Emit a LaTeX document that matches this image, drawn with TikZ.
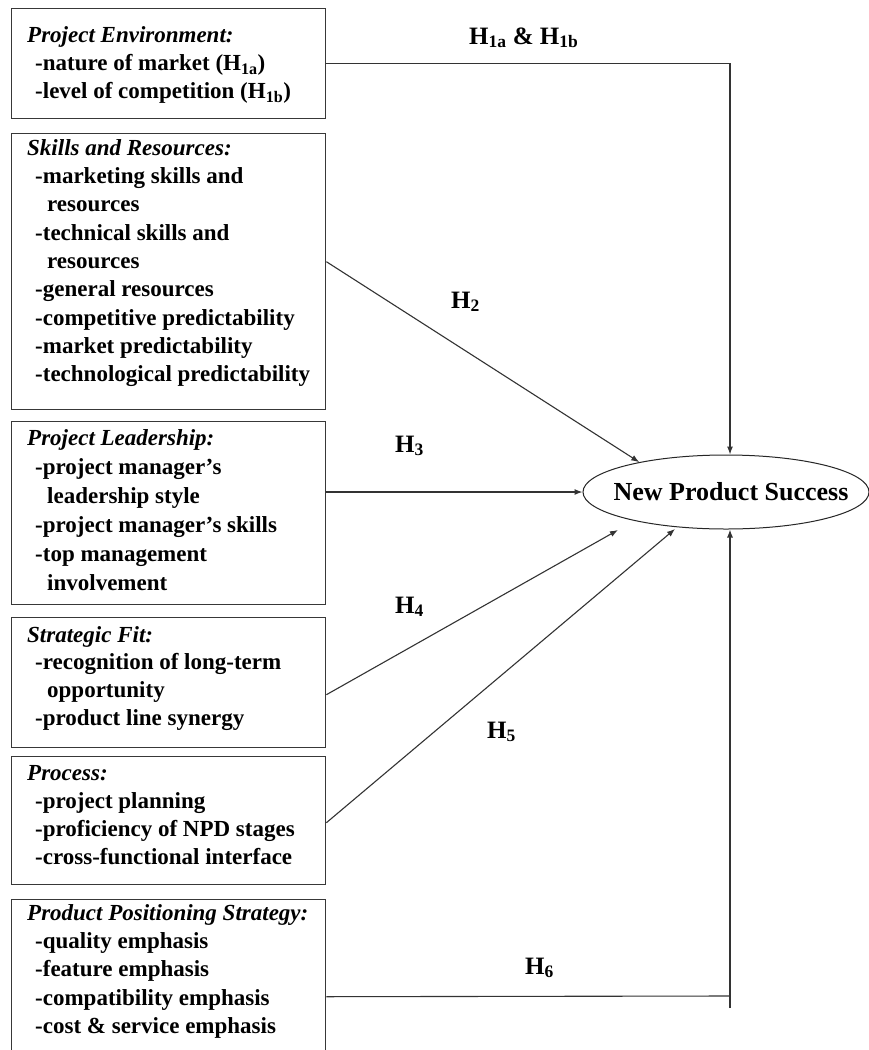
\documentclass[tikz,border=0pt]{standalone}
\usepackage{fontspec}
\setmainfont{Liberation Serif}
\usetikzlibrary{arrows.meta,shapes.geometric}

% indentation of list entries and of their continuation lines
\newcommand\lvla{\hspace*{8pt}}
\newcommand\lvlb{\hspace*{20pt}}
% invisible strut fixing the height of the first line of each list
\newcommand\firstln{\rule{0pt}{20pt}}

\begin{document}
\begin{tikzpicture}[x=1pt,y=-1pt,
  frame/.style={draw=black!78, line width=1.4pt, minimum width=314pt,
    anchor=north west, inner sep=0pt},
  list/.style={anchor=north west, align=left, inner sep=0pt,
    font=\fontsize{23}{28.3}\selectfont\bfseries},
  link/.style={draw=black!80, line width=1.1pt},
  arr/.style={link, -{Latex[length=8pt,width=6pt]}},
  hyp/.style={anchor=base west, inner sep=0pt,
    font=\fontsize{25}{28}\selectfont\bfseries},
  goal/.style={draw=black!85, line width=1pt, ellipse, inner sep=0pt,
    minimum width=286pt, minimum height=74pt,
    font=\fontsize{26}{30}\selectfont\bfseries},
]
\clip (0,0) rectangle (869,1050);
\fill[white] (0,0) rectangle (869,1050);

% factor boxes
\node[frame, minimum height=110pt] (pe) at (11,8) {};
\node[frame, minimum height=276pt] (sr) at (11,133) {};
\node[frame, minimum height=183pt] (pl) at (11,421) {};
\node[frame, minimum height=130pt] (sf) at (11,617) {};
\node[frame, minimum height=128pt] (pr) at (11,756) {};
\node[frame, minimum height=194pt] (pp) at (11,899) {};

% box contents
\node[list] (pe-txt) at (27,22) {\firstln\textit{Project Environment:}\\
  \lvla-nature of market (H\textsubscript{1a})\\
  \lvla-level of competition (H\textsubscript{1b})};
\node[list] (sr-txt) at (27,135) {\firstln\textit{Skills and Resources:}\\
  \lvla-marketing skills and\\
  \lvlb resources\\
  \lvla-technical skills and\\
  \lvlb resources\\
  \lvla-general resources\\
  \lvla-competitive predictability\\
  \lvla-market predictability\\
  \lvla-technological predictability};
\node[list, font=\fontsize{23}{29}\selectfont\bfseries] (pl-txt) at (27,425)
  {\firstln\textit{Project Leadership:}\\
  \lvla-project manager’s\\
  \lvlb leadership style\\
  \lvla-project manager’s skills\\
  \lvla-top management\\
  \lvlb involvement};
\node[list, font=\fontsize{23}{27.7}\selectfont\bfseries] (sf-txt) at (27,622)
  {\firstln\textit{Strategic Fit:}\\
  \lvla-recognition of long-term\\
  \lvlb opportunity\\
  \lvla-product line synergy};
\node[list, font=\fontsize{23}{28}\selectfont\bfseries] (pr-txt) at (27,760)
  {\firstln\textit{Process:}\\
  \lvla-project planning\\
  \lvla-proficiency of NPD stages\\
  \lvla-cross-functional interface};
\node[list] (pp-txt) at (27,900) {\firstln\textit{Product Positioning Strategy:}\\
  \lvla-quality emphasis\\
  \lvla-feature emphasis\\
  \lvla-compatibility emphasis\\
  \lvla-cost \& service emphasis};

% outcome (label set in a zero-width box so the ellipse keeps its size)
\node[goal] (nps) at (726,492) {\makebox[0pt]{\hspace*{10pt}New Product Success}};

% hypothesised paths
\draw[arr] (pe.east) -| ([xshift=4pt]nps.north);
\draw[arr] ([yshift=10pt]sr.east) -- (nps.161);
\draw[arr] (pl.east |- nps.west) -- (nps.west);
\coordinate (h4tip) at (618,530);
\draw[arr] ([yshift=-12pt]sf.east) -- (h4tip);
\coordinate (h5tip) at (675,529);
\draw[arr] ([yshift=-2pt]pr.east) -- (h5tip);
\coordinate (h6turn) at (730,996);
\coordinate (h6foot) at (730,1008);
\draw[link] (pp.east) -- (h6turn);
\draw[arr] (h6foot) -- ([xshift=4pt]nps.south);

% path labels
\node[hyp] (l1) at (469,44) {H\textsubscript{1a} \& H\textsubscript{1b}};
\node[hyp] (l2) at (451,308) {H\textsubscript{2}};
\node[hyp] (l3) at (395,452) {H\textsubscript{3}};
\node[hyp] (l4) at (395,613) {H\textsubscript{4}};
\node[hyp] (l5) at (487,738) {H\textsubscript{5}};
\node[hyp] (l6) at (525,974) {H\textsubscript{6}};
\end{tikzpicture}
\end{document}
